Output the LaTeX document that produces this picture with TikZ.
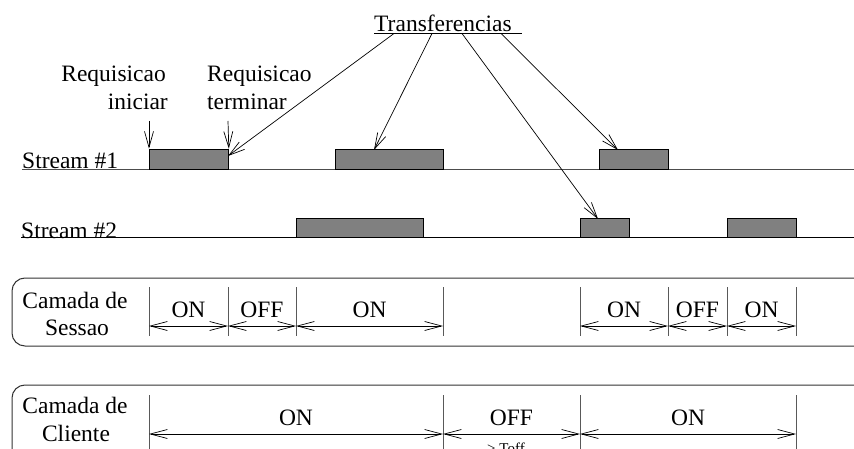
\documentclass[tikz,border=0pt]{standalone}
\usepackage{fontspec}
\setmainfont{Liberation Serif}
\usetikzlibrary{arrows.meta}
\begin{document}
\begin{tikzpicture}[x=1pt,y=-1pt,
  lbl/.style={inner sep=0pt, font=\fontsize{23.5}{27}\selectfont},
  small/.style={inner sep=0pt, font=\fontsize{15}{18}\selectfont},
  pkt/.style={draw=black, line width=0.8pt, fill=gray},
  streamline/.style={line width=1.6pt, draw=black!70},
  streamlinetwo/.style={line width=1pt, draw=black},
  ptr/.style={line width=0.7pt, -{Straight Barb[length=16pt,width=9pt,line width=0.7pt]}},
  span/.style={line width=0.8pt, {Straight Barb[length=17pt,width=9pt,line width=0.7pt]}-{Straight Barb[length=17pt,width=9pt,line width=0.7pt]}},
  tick/.style={line width=1pt, draw=black!65},
  layer/.style={line width=1pt, draw=black!80, rounded corners=13pt}
]
\clip (0,0) rectangle (854,449);
\fill[white] (0,0) rectangle (854,449);

% Transferencias label
\node[lbl, anchor=base west] (trans) at (374,32) {Transferencias};
\coordinate (ulA) at (374,33.5);
\coordinate (ulB) at (522,33.5);
\draw[line width=0.9pt] (ulA) -- (ulB);
\coordinate (t1) at (394,33.5);
\coordinate (t2) at (432,33.5);
\coordinate (t3) at (462,33.5);
\coordinate (t4) at (501,33.5);

% Requisicao labels
\node[lbl, anchor=base east] (rqa1) at (166,82) {Requisicao};
\node[lbl, anchor=base east] (rqa2) at (168,110) {iniciar};
\node[lbl, anchor=base west] (rqb1) at (207,82) {Requisicao};
\node[lbl, anchor=base west] (rqb2) at (207,110) {terminar};
\coordinate (rqa) at (149,121);
\coordinate (rqb) at (228,121);

% Stream 1
\node[lbl, anchor=base west] (st1) at (22,169) {Stream \#1};
\coordinate (st1end) at (854,169.5);
\draw[streamline] (st1.base west) ++(0,0.5) -- (st1end);
\node[pkt, minimum width=79pt, minimum height=20pt, inner sep=0pt, anchor=south west] (p11) at (149,169.5) {};
\node[pkt, minimum width=108pt, minimum height=20pt, inner sep=0pt, anchor=south west] (p12) at (335,169.5) {};
\node[pkt, minimum width=69pt, minimum height=20pt, inner sep=0pt, anchor=south west] (p13) at (599,169.5) {};

% Stream 2
\node[lbl, anchor=base west] (st2) at (21,238) {Stream \#2};
\coordinate (st2end) at (854,238);
\draw[streamlinetwo] (st2.base west) -- (st2end);
\node[pkt, minimum width=127pt, minimum height=19pt, inner sep=0pt, anchor=south west] (p21) at (296,238) {};
\node[pkt, minimum width=49pt, minimum height=19pt, inner sep=0pt, anchor=south west] (p22) at (580,238) {};
\node[pkt, minimum width=69pt, minimum height=19pt, inner sep=0pt, anchor=south west] (p23) at (727,238) {};

% request arrows
\draw[ptr] (rqa) -- (p11.north west);
\draw[ptr] (rqb) -- (p11.north east);

% transfer arrows
\coordinate (a1) at (228,156);
\coordinate (a2) at (374,150);
\coordinate (a3) at (598,219);
\coordinate (a4) at (618,150);
\draw[ptr] (t1) -- (a1);
\draw[ptr] (t2) -- (a2);
\draw[ptr] (t3) -- (a3);
\draw[ptr] (t4) -- (a4);

% Session layer
\draw[layer] (12,278) rectangle (868,346);
\node[lbl, anchor=base] (ses1) at (75,308) {Camada de};
\node[lbl, anchor=base] (ses2) at (77,335) {Sessao};
\foreach \n/\x in {a/149,b/228,c/296,d/443,e/580,f/668,g/727,h/796}{
  \coordinate (s\n t) at (\x,287);
  \coordinate (s\n b) at (\x,336);
  \coordinate (s\n m) at (\x,326);
  \draw[tick] (s\n t) -- (s\n b);
}
\draw[span] (sam) -- node[lbl, above=9pt, anchor=base] {ON} (sbm);
\draw[span] (sbm) -- node[lbl, above=9pt, anchor=base] {OFF} (scm);
\draw[span] (scm) -- node[lbl, above=9pt, anchor=base] {ON} (sdm);
\draw[span] (sem) -- node[lbl, above=9pt, anchor=base] {ON} (sfm);
\draw[span] (sfm) -- node[lbl, above=9pt, anchor=base] {OFF} (sgm);
\draw[span] (sgm) -- node[lbl, above=9pt, anchor=base] {ON} (shm);

% Client layer
\draw[layer] (12,385) rectangle (868,480);
\node[lbl, anchor=base] (cli1) at (75,413) {Camada de};
\node[lbl, anchor=base] (cli2) at (76,441) {Cliente};
\foreach \n/\x in {a/149,b/443,c/580,d/796}{
  \coordinate (c\n t) at (\x,395);
  \coordinate (c\n b) at (\x,460);
  \coordinate (c\n m) at (\x,434);
  \draw[tick] (c\n t) -- (c\n b);
}
\draw[span] (cam) -- node[lbl, above=9pt, anchor=base] {ON} (cbm);
\draw[span] (cbm) -- node[lbl, above=9pt, anchor=base] {OFF} (ccm);
\draw[span] (ccm) -- node[lbl, above=9pt, anchor=base] {ON} (cdm);
\node[small, anchor=base] (toff) at (506,453) {> Toff};
\end{tikzpicture}
\end{document}
